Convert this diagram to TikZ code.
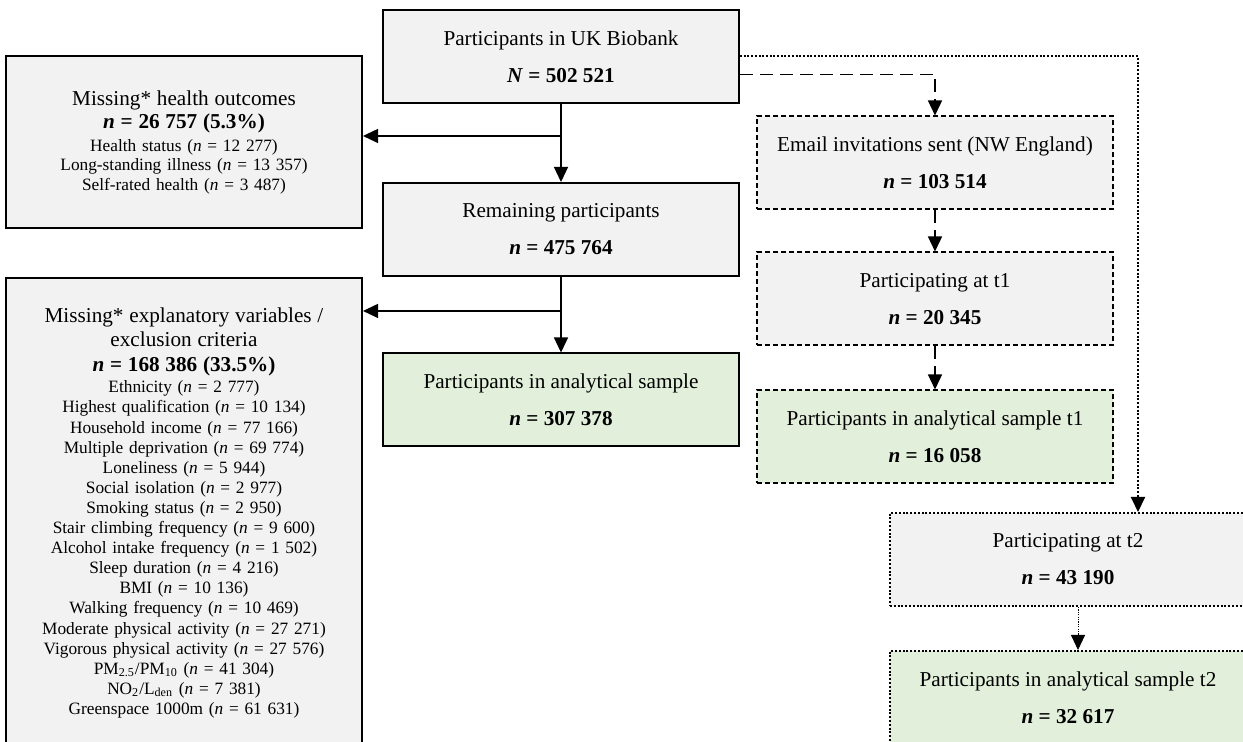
\documentclass[tikz,border=0pt]{standalone}
\usepackage{fontspec}
\setmainfont{Liberation Serif}
\usetikzlibrary{positioning, arrows.meta, calc}
\definecolor{ink}{HTML}{000000}
\definecolor{boxgrey}{HTML}{F2F2F2}
\definecolor{boxgreen}{HTML}{E2EFDA}
\tikzset{
  fcbase/.style    = {draw=ink, line width=1pt, fill=boxgrey, align=center, inner sep=0pt,
                      minimum width=178pt, minimum height=46.5pt, text=ink,
                      font=\fontsize{10.6}{18.5}\selectfont},
  fcgreen/.style   = {fcbase, fill=boxgreen},
  fcdash/.style    = {fcbase, dash pattern=on 2.5pt off 1.5pt},
  fcdot/.style     = {fcbase, dash pattern=on 1pt off 0.9pt},
  fcmiss/.style    = {fcbase, text width=178pt},
  fcgo/.style      = {-{Triangle[length=7.5pt,width=7pt]}, draw=ink, line width=0.65pt},
  fcgodash/.style  = {fcgo, dash pattern=on 6.5pt off 3.5pt},
  fcgodot/.style   = {fcgo, line width=1pt, dash pattern=on 1pt off 0.85pt},
  fcgothin/.style  = {fcgo, line width=0.45pt, dash pattern=on 0.6pt off 0.6pt},
}
\newcommand{\fcn}[2]{\textbf{\textit{#1} = #2}}
\newcommand{\fcitem}[2]{#1 (\textit{n} = #2)}
\newcommand{\fchead}[1]{{\fontsize{10.6}{12}\selectfont #1}}
\newcommand{\fcsmall}[1]{\fontsize{8.65}{#1}\selectfont\lineskiplimit=-20pt\relax}

\begin{document}
\begin{tikzpicture}[x=0.5pt, y=-0.5pt]
\clip (0,0) rectangle (1243,742);

\node[fcbase]  (uk)  at (561,56.5) {Participants in UK Biobank\\\fcn{N}{502 521}};
\node[fcbase]  (rem) at (561,229.5) {Remaining participants\\\fcn{n}{475 764}};
\node[fcgreen] (ana) at (561,400) {Participants in analytical sample\\\fcn{n}{307 378}};

\node[fcmiss, minimum height=86pt, font=\fcsmall{9.75}] (miss1) at (184,142)
  {\fchead{Missing* health outcomes}\\[1.75pt]
   \fchead{\fcn{n}{26 757 (5.3\%)}}\\[1.75pt]
   \fcitem{Health status}{12 277}\\
   \fcitem{Long-standing illness}{13 357}\\
   \fcitem{Self-rated health}{3 487}};

\node[fcmiss, minimum height=235pt, font=\fcsmall{10.05}] (miss2) at (184,513)
  {\fchead{Missing* explanatory variables /}\\[2pt]
   \fchead{exclusion criteria}\\[2.5pt]
   \fchead{\fcn{n}{168 386 (33.5\%)}}\\[0.5pt]
   \fcitem{Ethnicity}{2 777}\\
   \fcitem{Highest qualification}{10 134}\\
   \fcitem{Household income}{77 166}\\
   \fcitem{Multiple deprivation}{69 774}\\
   \fcitem{Loneliness}{5 944}\\
   \fcitem{Social isolation}{2 977}\\
   \fcitem{Smoking status}{2 950}\\
   \fcitem{Stair climbing frequency}{9 600}\\
   \fcitem{Alcohol intake frequency}{1 502}\\
   \fcitem{Sleep duration}{4 216}\\
   \fcitem{BMI}{10 136}\\
   \fcitem{Walking frequency}{10 469}\\
   \fcitem{Moderate physical activity}{27 271}\\
   \fcitem{Vigorous physical activity}{27 576}\\
   \fcitem{PM\textsubscript{2.5}/PM\textsubscript{10}}{41 304}\\
   \fcitem{NO\textsubscript{2}/L\textsubscript{den}}{7 381}\\
   \fcitem{Greenspace 1000m}{61 631}};

\node[fcdash] (email) at (935,163) {Email invitations sent (NW England)\\\fcn{n}{103 514}};
\node[fcdash] (part1) at (935,299) {Participating at t1\\\fcn{n}{20 345}};
\node[fcdash, fill=boxgreen] (anat1) at (935,437) {Participants in analytical sample t1\\\fcn{n}{16 058}};

\node[fcdot] (part2) at (1068,559.5) {Participating at t2\\\fcn{n}{43 190}};
\node[fcdot, fill=boxgreen] (anat2) at (1068,697.5) {Participants in analytical sample t2\\\fcn{n}{32 617}};

\coordinate (j1) at ($(uk.south)!0.41!(rem.north)$);
\coordinate (j2) at ($(rem.south)!0.45!(ana.north)$);
\draw[fcgo] (uk.south) -- (rem.north);
\draw[fcgo] (j1) -- (j1 -| miss1.east);
\draw[fcgo] (rem.south) -- (ana.north);
\draw[fcgo] (j2) -- (j2 -| miss2.east);

\draw[fcgodash] ([yshift=-9pt]uk.east) -| (email.north);
\draw[fcgodash] (email.south) -- (part1.north);
\draw[fcgodash] (part1.south) -- (anat1.north);

\draw[fcgodot] (uk.east) -| ([xshift=35pt]part2.north);
\draw[fcgothin] ([xshift=5pt]part2.south) -- ([xshift=5pt]anat2.north);
\end{tikzpicture}
\end{document}
